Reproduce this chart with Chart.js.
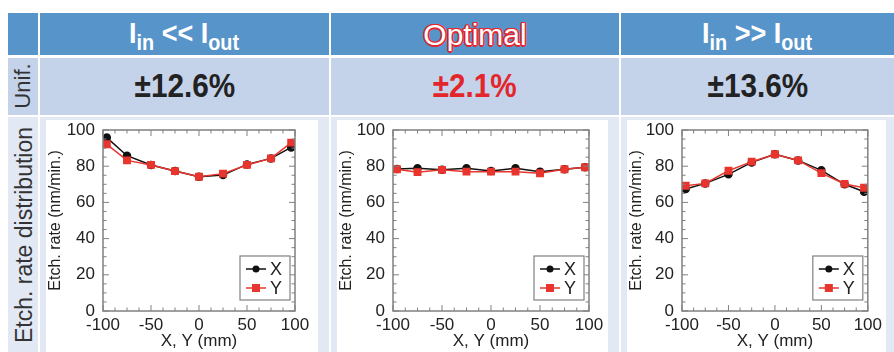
<!DOCTYPE html>
<html>
<head>
<meta charset="utf-8">
<script src="https://cdn.jsdelivr.net/npm/chart.js@4"></script>
<style>
    body { margin: 0; width: 894px; height: 352px; background: #fff; position: relative; overflow: hidden; font-family: "Liberation Sans", Arial, sans-serif; }
    .cell { position: absolute; }
    .hdr { background: #5794ca; }
    .row2 { background: #c4d3ea; }
    .row3 { background: #e2e9f4; }
    .panel { position: absolute; background: #fff; }
    .narrow { display: inline-block; transform-origin: center; white-space: nowrap; font-weight: bold; }
    .centre { position: absolute; left: 0; right: 0; text-align: center; }
    .side { position: absolute; color: #333; white-space: nowrap; transform: translate(-50%, -50%) rotate(-90deg); }
    sub { font-size: 22px; vertical-align: -7px; }
</style>
</head>
<body>
<!-- header row -->
<div class="cell hdr" style="left:8px; top:13px; width:30px; height:42px;"></div>
<div class="cell hdr" style="left:40px; top:13px; width:289px; height:42px;">
    <div class="centre" style="top:3px; color:#fff; font-size:30px; line-height:34px;"><span class="narrow" style="transform:scaleX(0.9);">I<sub>in</sub> &lt;&lt; I<sub>out</sub></span></div>
</div>
<div class="cell hdr" style="left:331px; top:13px; width:288px; height:42px;">
    <div class="centre" style="top:5px; color:#fff; font-size:30px; line-height:34px;"><span class="narrow" style="font-weight:normal; text-shadow: 1.5px 0 #e3262b, -1.5px 0 #e3262b, 0 1.5px #e3262b, 0 -1.5px #e3262b, 1px 1px #e3262b, -1px -1px #e3262b, 1px -1px #e3262b, -1px 1px #e3262b;">Optimal</span></div>
</div>
<div class="cell hdr" style="left:621px; top:13px; width:273px; height:42px;">
    <div class="centre" style="top:3px; color:#fff; font-size:30px; line-height:34px;"><span class="narrow" style="transform:scaleX(0.9);">I<sub>in</sub> &gt;&gt; I<sub>out</sub></span></div>
</div>

<!-- uniformity row -->
<div class="cell row2" style="left:8px; top:58px; width:30px; height:57px;"></div>
<div class="cell row2" style="left:40px; top:58px; width:289px; height:57px;" id="u0"></div>
<div class="cell row2" style="left:331px; top:58px; width:288px; height:57px;" id="u1"></div>
<div class="cell row2" style="left:621px; top:58px; width:273px; height:57px;" id="u2"></div>
<div class="side" style="left:23px; top:86px; font-size:22px;">Unif.</div>

<!-- distribution row -->
<div class="cell row3" style="left:8px; top:117px; width:30px; height:235px;"></div>
<div class="cell row3" style="left:40px; top:117px; width:289px; height:235px;"></div>
<div class="cell row3" style="left:331px; top:117px; width:288px; height:235px;"></div>
<div class="cell row3" style="left:621px; top:117px; width:273px; height:235px;"></div>
<div class="side" style="left:24px; top:235px; font-size:23px;">Etch. rate distribution</div>

<div class="panel" style="left:46px; top:120px; width:272px; height:232px;"><canvas id="c0" width="272" height="232"></canvas></div>
<div class="panel" style="left:337px; top:120px; width:271px; height:232px;"><canvas id="c1" width="271" height="232"></canvas></div>
<div class="panel" style="left:627px; top:120px; width:259px; height:232px;"><canvas id="c2" width="259" height="232"></canvas></div>

<script>
// positions across the wafer (mm)
const positions = [-96, -75, -50, -25, 0, 25, 50, 75, 96];

// etch rate (nm/min.) along X and Y
const lowX  = [95.8, 85.8, 80.7, 77.3, 74.2, 75.1, 81.0, 84.3, 90.4];
const lowY  = [92.1, 83.2, 80.7, 77.3, 74.2, 75.9, 80.7, 84.3, 93.0];
const optX  = [78.5, 78.9, 78.0, 78.9, 77.4, 78.9, 77.0, 78.3, 79.4];
const optY  = [78.3, 76.7, 78.0, 77.0, 77.0, 77.0, 76.1, 78.3, 79.4];
const highX = [67.4, 70.5, 75.5, 82.1, 86.6, 83.2, 77.7, 70.0, 65.9];
const highY = [69.2, 70.5, 77.5, 82.5, 86.6, 83.2, 76.2, 70.2, 68.1];

const uniformity = ["±12.6%", "±2.1%", "±13.6%"];
const uniformityColours = ["#222", "#e3262b", "#222"];

const xTickStep = 50, xMinorStep = 12.5;
const yTickStep = 20, yMinorStep = 5;

uniformity.forEach((u, i) => {
    const el = document.getElementById("u" + i);
    el.innerHTML = `<div class="centre" style="top:9px; font-size:33px; color:${uniformityColours[i]};"><span class="narrow" style="transform:scaleX(0.9);">${u}</span></div>`;
});

// box frame with inward ticks, like the original plotting software
const framePlugin = {
    id: "frame",
    afterDatasetsDraw(chart) {
        const { ctx, chartArea: a, scales: { x, y } } = chart;
        ctx.save();
        ctx.strokeStyle = "#808080";
        ctx.lineWidth = 1.5;
        ctx.strokeRect(a.left, a.top, a.right - a.left, a.bottom - a.top);
        ctx.lineWidth = 1;
        ctx.beginPath();
        for (let v = x.min; v <= x.max + 1e-6; v += xMinorStep) {
            const px = x.getPixelForValue(v);
            const len = (Math.abs(v % xTickStep) < 1e-6) ? 6 : 3.5;
            ctx.moveTo(px, a.bottom); ctx.lineTo(px, a.bottom - len);
            ctx.moveTo(px, a.top); ctx.lineTo(px, a.top + len);
        }
        for (let v = y.min; v <= y.max + 1e-6; v += yMinorStep) {
            const py = y.getPixelForValue(v);
            const len = (Math.abs(v % yTickStep) < 1e-6) ? 6 : 3.5;
            ctx.moveTo(a.left, py); ctx.lineTo(a.left + len, py);
            ctx.moveTo(a.right, py); ctx.lineTo(a.right - len, py);
        }
        ctx.stroke();
        ctx.restore();
    }
};

// small boxed legend in the lower right of the plot
const boxLegend = {
    id: "boxLegend",
    afterDraw(chart) {
        const { ctx, chartArea: a } = chart;
        const w = 50, h = 44;
        const bx = a.right - 5 - w, by = a.bottom - 11 - h;
        ctx.save();
        ctx.fillStyle = "#fff";
        ctx.fillRect(bx, by, w, h);
        ctx.strokeStyle = "#808080";
        ctx.lineWidth = 1.2;
        ctx.strokeRect(bx, by, w, h);
        chart.data.datasets.forEach((ds, i) => {
            const cy = by + 13 + i * 19;
            ctx.strokeStyle = ds.borderColor;
            ctx.lineWidth = 1.5;
            ctx.beginPath();
            ctx.moveTo(bx + 6, cy); ctx.lineTo(bx + 26, cy);
            ctx.stroke();
            ctx.fillStyle = ds.pointBackgroundColor;
            if (ds.pointStyle === "rect") {
                ctx.fillRect(bx + 12, cy - 4, 8, 8);
            } else {
                ctx.beginPath(); ctx.arc(bx + 16, cy, 3.5, 0, Math.PI * 2); ctx.fill();
            }
            ctx.fillStyle = "#222";
            ctx.font = "18px 'Liberation Sans', Arial";
            ctx.textBaseline = "middle";
            ctx.fillText(ds.label, bx + 30, cy + 1);
        });
        ctx.restore();
    }
};

function drawPanel(id, xs, ys, pad) {
    new Chart(document.getElementById(id), {
        type: "line",
        data: {
            datasets: [
                {
                    label: "X",
                    data: positions.map((p, i) => ({ x: p, y: xs[i] })),
                    borderColor: "#111",
                    pointBackgroundColor: "#111",
                    pointBorderColor: "#111",
                    pointStyle: "circle",
                    pointRadius: 3.5,
                    borderWidth: 1.5,
                    order: 1
                },
                {
                    label: "Y",
                    data: positions.map((p, i) => ({ x: p, y: ys[i] })),
                    borderColor: "#e8352d",
                    pointBackgroundColor: "#e8352d",
                    pointBorderColor: "#e8352d",
                    pointStyle: "rect",
                    pointRadius: 4.5,
                    borderWidth: 1.5,
                    order: 0
                }
            ]
        },
        options: {
            responsive: false,
            animation: false,
            layout: { padding: { left: 0, right: pad.right, top: 0, bottom: 0 } },
            plugins: { legend: { display: false }, tooltip: { enabled: false } },
            scales: {
                x: {
                    type: "linear",
                    min: -100,
                    max: 100,
                    grid: { display: false, drawTicks: false },
                    border: { display: false },
                    ticks: { stepSize: xTickStep, color: "#222", padding: 4, font: { size: 17, family: "'Liberation Sans', Arial" } },
                    title: { display: true, text: "X, Y (mm)", color: "#222", padding: 0, font: { size: 17, family: "'Liberation Sans', Arial" } },
                    afterFit(scale) { scale.height = 41; }
                },
                y: {
                    min: 0,
                    max: 100,
                    grid: { display: false, drawTicks: false },
                    border: { display: false },
                    ticks: { stepSize: yTickStep, color: "#222", padding: 8, font: { size: 17, family: "'Liberation Sans', Arial" } },
                    title: { display: true, text: "Etch. rate (nm/min.)", color: "#222", padding: 0, font: { size: 16, family: "'Liberation Sans', Arial" } },
                    afterFit(scale) {
                        scale.width = pad.left;
                        scale.paddingTop = 10;
                    }
                }
            }
        },
        plugins: [framePlugin, boxLegend]
    });
}

drawPanel("c0", lowX, lowY, { left: 57, right: 23 });
drawPanel("c1", optX, optY, { left: 56, right: 19 });
drawPanel("c2", highX, highY, { left: 55, right: 9 });
</script>
</body>
</html>
